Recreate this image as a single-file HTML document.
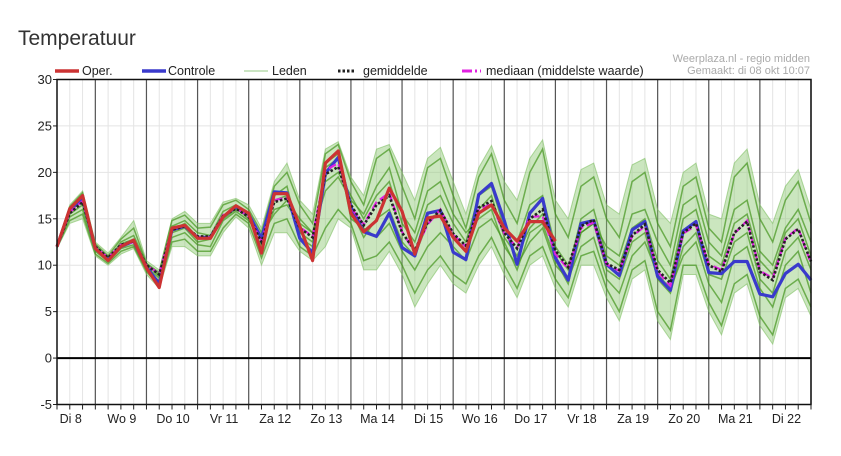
<!DOCTYPE html>
<html><head><meta charset="utf-8">
<style>
html,body{margin:0;padding:0;background:#fff;}
body{width:841px;height:451px;overflow:hidden;font-family:"Liberation Sans",sans-serif;}
</style></head>
<body>
<svg id="chart" width="841" height="451" xmlns="http://www.w3.org/2000/svg" font-family="Liberation Sans, sans-serif">
<text x="18" y="45" font-size="21" fill="#333">Temperatuur</text>
<g font-size="12.5" fill="#222">
 <line x1="55" y1="71" x2="79" y2="71" stroke="#cc3333" stroke-width="3.5"/>
 <text x="82" y="75">Oper.</text>
 <line x1="142" y1="71" x2="166" y2="71" stroke="#3a3acc" stroke-width="3.5"/>
 <text x="168" y="75">Controle</text>
 <line x1="244" y1="71" x2="268" y2="71" stroke="#b9dcae" stroke-width="1.5"/>
 <text x="272" y="75">Leden</text>
 <line x1="338" y1="71" x2="356" y2="71" stroke="#222" stroke-width="3" stroke-dasharray="2.5,2"/>
 <text x="363" y="75">gemiddelde</text>
 <line x1="462" y1="71" x2="481" y2="71" stroke="#e020e0" stroke-width="3" stroke-dasharray="10,3,2,3"/>
 <text x="486" y="75">mediaan (middelste waarde)</text>
</g>
<text x="810" y="62" font-size="11" fill="#aaa" text-anchor="end">Weerplaza.nl - regio midden</text>
<text x="810" y="74" font-size="11" fill="#aaa" text-anchor="end">Gemaakt: di 08 okt 10:07</text>
<g id="plot"></g>
</svg>
<script>
const yTicks=[30,25,20,15,10,5,0,-5];
const days=["Di 8","Wo 9","Do 10","Vr 11","Za 12","Zo 13","Ma 14","Di 15","Wo 16","Do 17","Vr 18","Za 19","Zo 20","Ma 21","Di 22"];
const oper=[12,16.1,17.5,11.8,10.5,12,12.7,9.7,7.6,14,14.3,12.9,12.9,15.2,16.4,15.6,11.3,17.7,17.7,14.2,10.5,21,22.3,15.6,13.6,14.8,18.3,15.8,11.2,15.1,15.3,13,11.5,15.6,16.5,14,12.6,14.7,14.7,12.6];
const controle=[12,16,17.2,11.8,10.6,12,12.6,9.8,8,13.8,14.2,13,13,15.2,16.3,15.5,12.9,17.9,17.8,12.9,11.3,19.9,21.6,16.3,13.6,13.1,15.6,11.9,11,15.6,15.9,11.4,10.6,17.6,18.8,14.8,10.1,15.6,17.2,10.8,8.4,14.5,14.8,10.1,8.9,13.8,14.7,8.8,7.3,13.7,14.7,9.2,9.1,10.4,10.4,6.9,6.6,9.1,10.1,8.4];
const gemiddelde=[12,15.6,16.8,12,10.8,12.2,12.6,10,9,13.8,14.2,13.1,13.1,15.3,16.1,15.2,12.5,16.8,17.2,14,13,19.8,20.6,16.5,14.3,16.5,17.5,13.5,11.6,14.6,15.9,13.4,12.1,16.2,16.9,13.5,11.8,15,16,11.6,9.8,14.2,14.9,10.2,9.5,13.2,14.4,9.5,8.1,13.5,14.5,10,9.3,13.5,14.7,9.3,8.4,12.8,13.9,10.4];
const mediaan=[12,15.7,16.9,12,10.8,12.2,12.5,10,9.1,13.9,14.3,13,13,15.4,16.2,15.2,12.6,17,17.3,14.1,13.1,20.2,21,16.2,14.4,16.8,17.8,13.6,11.4,14.4,16,13.3,12,16,16.6,13.4,11.9,15.2,15.3,11.2,9.6,14,14.6,10.1,9.4,13.1,14.2,9.3,7.8,13.4,14.3,10.1,9.5,13.4,14.8,9.4,8.6,12.9,14,10.2];
const ledenMax=[12.2,16.5,18,12.5,11.3,13,14.8,10.5,9.5,15,15.8,14.5,14.5,16.8,17.2,16.5,14,19,21,17,15.5,22.5,23.3,19.5,17.5,22.5,23,20,17,21.5,22.7,19,15.5,20.5,22.9,19,17,21.5,23.5,17,15,20.3,21,16.5,15.5,20.8,21.5,16,14.5,20,21,15.5,15,21,22.5,16.5,14.5,18.5,20.3,16];
const ledenMin=[11.8,14.5,15,11,10,11.2,11.8,9,7.5,12,12,11,11,13.5,15.2,14,10,13.5,13.5,11.5,10.5,12,15,14,9.5,9.5,11.5,9,5.5,8,10,8,7,10,12,9,6.5,10,11,7.5,5.5,10,10,6.5,4,8.5,9.5,4,2,9,9,5,2.5,7,8,3.5,1.5,6.5,7.5,4.5];
const lid1=[12,16.3,17.8,12.3,11,12.8,14,10.2,9.2,14.8,15.4,14,14.1,16.5,17,16,13.5,18.5,20,16.5,14.5,22,23,19,16.5,21.5,22.5,18.5,15,20.5,21.5,17.5,14,19.5,22,17,14.5,20,22.5,15.5,13,18.5,19.5,15,13,19,20,14.5,12,18.5,19.5,14,12.5,19.5,21,15,12.5,17,19,14.5];
const lid2=[11.9,14.8,15.5,11.2,10.2,11.5,12,9.3,7.8,12.5,12.8,11.5,11.5,14,15.5,14.5,10.8,14.5,15,12,11,14,16,14.5,10.5,11,12.5,10,7,9.5,11,9,8,11,13,10,7.5,11,12,8.5,6.5,11,11.5,7.5,5,9.5,10.5,5,3,10,10,6,3.5,8,9,4.5,2.5,7.5,8.5,5.5];
const lid3=[12,15.8,17,12,10.6,12.3,12.8,9.8,8.6,13.8,14.5,13,13,15.3,16.2,15,12,17,17.5,13.5,12.5,20.5,21.5,16,13,15,16,12.5,11,14.5,16,13,11.5,16,17.5,13,11,14,15.5,11.5,9.5,15,16,11,10,14,15,10.5,8.5,15,16,11,10,14.5,15.5,10.5,9,13.5,15,11];
const lid4=[12,15.5,16.5,11.8,10.8,12,12.5,10,9,13.5,14,12.5,12.8,15,16,15.3,12.8,16,16.5,14.5,13.5,19,20,17.5,15,17.5,19,14.5,12.5,16.5,17.5,14.5,12.5,17.5,18.5,14,12.5,16.5,17.5,12,10,13.5,14.5,9.5,8.5,12.5,13.5,8.5,7,12,13.5,9,8.5,12.5,13.5,8.5,7,11.5,13,9.5];
const lid5=[12,16,17.2,12.2,10.5,12.5,13.2,10.2,8.8,14.2,14.8,13.5,13.2,15.8,16.5,15.5,11.5,17.5,18.5,13,12,21,22,15,14,13,14.5,11.5,9.5,12,13.5,12,10.5,14,15,12.5,9.5,13.5,14.5,10.5,8,13.5,14.5,12,11,15.5,16,12.5,10,16.5,17.5,12.5,11,16,17,11.5,10,14,16,12.5];
const lid6=[12,15.2,16,11.5,10.4,11.8,12.2,9.5,8.3,13,13.5,12.2,12,14.8,15.8,14.8,13.2,15.5,17,15,13.5,18,19.5,17,15.5,18.5,20.5,15.5,13.5,18,19,15.5,13.5,15,16,12,10,12.5,14,10,8.5,12,13,8.5,7,11,12.5,9,7.5,11,12.5,8,6,11,12,7.5,5.5,10,11.5,7];
const leden=[lid1,lid2,lid3,lid4,lid5,lid6];

const NS="http://www.w3.org/2000/svg";
const L=57,R=811,T=79.5,B=404.5,N=60,yMin=-5,yMax=30;
const xs=i=>L+i*(R-L)/(N-1);
const ys=v=>B-(v-yMin)*(B-T)/(yMax-yMin);
const g=document.getElementById('plot');
function mk(tag,attrs,parent){const e=document.createElementNS(NS,tag);for(const k in attrs)e.setAttribute(k,attrs[k]);(parent||g).appendChild(e);return e;}
const pts=a=>a.map((v,i)=>xs(i).toFixed(1)+','+ys(v).toFixed(1)).join(' ');

for(let i=0;i<N;i++){const l=mk('line',{x1:xs(i),x2:xs(i),y1:T,y2:B,stroke:'#e4e4e4','stroke-width':1});

}
yTicks.forEach(v=>{const l=mk('line',{x1:L,x2:R,y1:ys(v),y2:ys(v),stroke:'#e4e4e4','stroke-width':1});


const t=mk('text',{x:L-5,y:ys(v)+4.5,'font-size':13,fill:'#222','text-anchor':'end'});t.textContent=v;


const tk=mk('line',{x1:L-4,x2:L,y1:ys(v),y2:ys(v),stroke:'#222'});

});
for(let i=3;i<N;i+=4){const l=mk('line',{x1:xs(i),x2:xs(i),y1:T,y2:B,stroke:'#555','stroke-width':1.2});

}
const band=mk('polygon',{points:pts(ledenMax)+' '+ledenMin.map((v,i)=>[xs(i),ys(v)]).reverse().map(p=>p[0].toFixed(1)+','+p[1].toFixed(1)).join(' '),fill:'#8cc870','fill-opacity':0.45,stroke:'#7fbf63','stroke-opacity':0.6,'stroke-width':1});


leden.forEach(a=>{const p=mk('polyline',{points:pts(a),fill:'none',stroke:'#43941c','stroke-opacity':0.7,'stroke-width':1.5});

});
const z=mk('line',{x1:L,x2:R,y1:ys(0),y2:ys(0),stroke:'#000','stroke-width':2});


const cl=mk('polyline',{points:pts(controle),fill:'none',stroke:'#3a3acc','stroke-width':3.2,'stroke-linejoin':'round'});


const ml=mk('polyline',{points:pts(mediaan),fill:'none',stroke:'#e020e0','stroke-width':2.2,'stroke-dasharray':'8,4'});


const gl=mk('polyline',{points:pts(gemiddelde),fill:'none',stroke:'#222','stroke-width':2.6,'stroke-dasharray':'2.5,2'});


const ol=mk('polyline',{points:pts(oper),fill:'none',stroke:'#cc3333','stroke-width':3.2,'stroke-linejoin':'round'});


const fr=mk('rect',{x:L,y:T,width:R-L,height:B-T,fill:'none',stroke:'#111','stroke-width':1.5});


for(let i=0;i<N;i++){const t=mk('line',{x1:xs(i),x2:xs(i),y1:B,y2:B+5,stroke:'#222'});

}
days.forEach((d,k)=>{const t=mk('text',{x:xs(1+4*k)+1,y:423,'font-size':12.5,fill:'#222','text-anchor':'middle'});t.textContent=d;

});
</script>
</body></html>
